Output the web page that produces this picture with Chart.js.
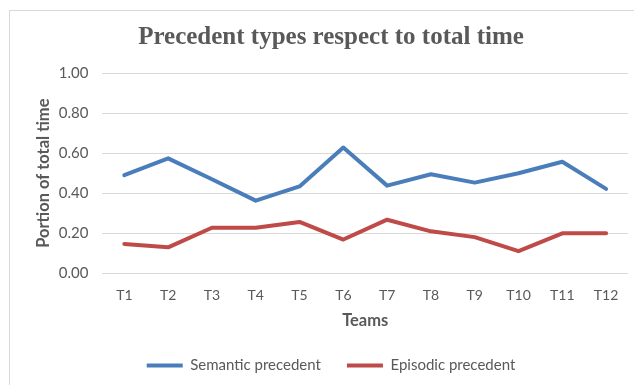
<!DOCTYPE html>
<html>
<head>
<meta charset="utf-8">
<script src="https://cdn.jsdelivr.net/npm/chart.js@4"></script>
<style>
  html, body { margin: 0; padding: 0; background: #fff; overflow: hidden; width: 634px; height: 385px; }
  #frame { position: absolute; left: 9px; top: 10px; border-left: 1px solid #d9d9d9; border-top: 1px solid #d9d9d9; }
  canvas { display: block; }
</style>
</head>
<body>
<div id="frame"><canvas id="c" width="640" height="380"></canvas></div>
<script>
// Team labels, series values and y-axis tick values
const teams = ['T1', 'T2', 'T3', 'T4', 'T5', 'T6', 'T7', 'T8', 'T9', 'T10', 'T11', 'T12'];
const semantic = [0.49, 0.574, 0.47, 0.363, 0.434, 0.628, 0.438, 0.495, 0.453, 0.50, 0.557, 0.422];
const episodic = [0.147, 0.130, 0.228, 0.228, 0.257, 0.169, 0.268, 0.210, 0.181, 0.111, 0.200, 0.200];
const yTicks = [0, 0.2, 0.4, 0.6, 0.8, 1.0];

const grey = '#595959';
const sansFont = 'Lato';

new Chart(document.getElementById('c'), {
  type: 'line',
  data: {
    labels: teams,
    datasets: [
      { label: 'Semantic precedent', data: semantic, borderColor: '#4a7ebb', backgroundColor: '#4a7ebb',
        borderWidth: 4, pointRadius: 0, tension: 0, borderCapStyle: 'round', borderJoinStyle: 'round' },
      { label: 'Episodic precedent', data: episodic, borderColor: '#be4b48', backgroundColor: '#be4b48',
        borderWidth: 4, pointRadius: 0, tension: 0, borderCapStyle: 'round', borderJoinStyle: 'round' }
    ]
  },
  options: {
    responsive: false,
    animation: false,
    layout: { padding: { left: 24, right: 22, top: 6, bottom: 8 } },
    plugins: {
      title: {
        display: true,
        text: 'Precedent types respect to total time',
        color: grey,
        font: { family: 'Liberation Serif', size: 25, weight: 'bold' },
        padding: { top: 6, bottom: 20 }
      },
      legend: {
        position: 'bottom',
        labels: {
          boxWidth: 36, boxHeight: 4, padding: 26,
          color: grey, font: { family: sansFont, size: 15 },
          // legend keys drawn as flat line swatches without an outline
          generateLabels: (chart) => Chart.defaults.plugins.legend.labels.generateLabels(chart)
            .map(item => Object.assign(item, { lineWidth: 0 }))
        }
      },
      tooltip: { enabled: false }
    },
    scales: {
      x: {
        offset: true,
        grid: { display: false, drawTicks: false },
        border: { display: false },
        ticks: { color: grey, font: { family: sansFont, size: 14 }, padding: 14 },
        title: { display: true, text: 'Teams', color: grey, font: { family: sansFont, size: 16.5, weight: 'bold' }, padding: { top: -7, bottom: 1 } }
      },
      y: {
        min: 0, max: 1,
        afterBuildTicks: (axis) => { axis.ticks = yTicks.map(v => ({ value: v })); },
        grid: { color: '#d9d9d9', lineWidth: 1, drawTicks: false },
        border: { display: false },
        ticks: { color: grey, font: { family: sansFont, size: 15 }, padding: 14,
                 callback: (v) => Number(v).toFixed(2) },
        title: { display: true, text: 'Portion of total time', color: grey, font: { family: sansFont, size: 16.5, weight: 'bold' }, padding: { top: 0, bottom: -9 } }
      }
    }
  }
});
</script>
</body>
</html>
